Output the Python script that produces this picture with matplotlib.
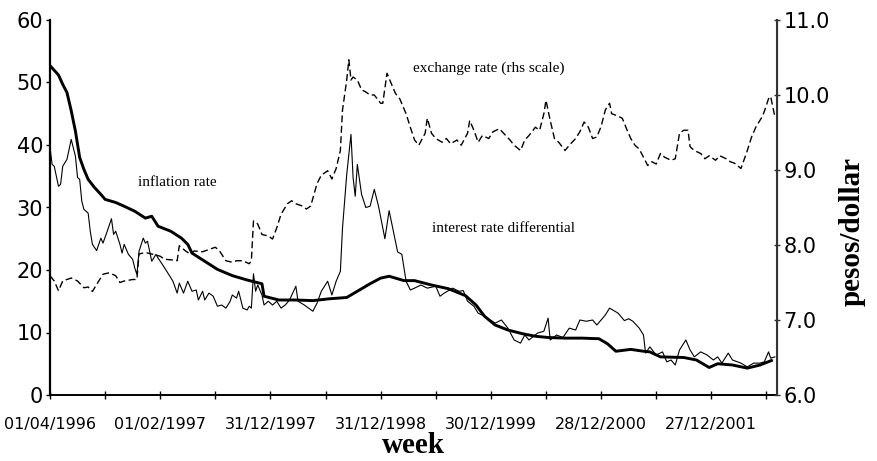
import numpy as np
import matplotlib.pyplot as plt
from matplotlib.transforms import ScaledTranslation

# week index (0 = 01/04/1996) and values
infl_wk = [0, 4, 6, 8, 10, 12, 14, 16, 18, 21, 24, 26, 31, 35, 40, 45, 48, 51, 57, 62,
           65, 67, 73, 79, 86, 93, 100, 101, 108, 116, 124, 132, 140, 145, 151, 156, 160,
           167, 172, 180, 188, 196, 201, 205, 210, 216, 223, 229, 235, 243, 251, 259, 263,
           267, 274, 280, 283, 288, 299, 305, 311, 315, 322, 329, 335, 341]
infl = [52.7, 51.2, 49.7, 48.4, 45.5, 42.2, 38.0, 36.1, 34.5, 33.2, 32.1, 31.3, 30.8, 30.2,
        29.4, 28.3, 28.6, 27.0, 26.2, 25.1, 24.1, 22.7, 21.4, 20.1, 19.1, 18.4, 17.8, 15.8,
        15.2, 15.2, 15.1, 15.4, 15.6, 16.6, 17.8, 18.7, 19.0, 18.3, 18.3, 17.6, 17.0, 15.9,
        14.4, 12.6, 11.2, 10.4, 9.8, 9.4, 9.2, 9.1, 9.1, 9.0, 8.2, 7.0, 7.3, 7.0, 6.9, 6.1,
        6.0, 5.6, 4.4, 5.0, 4.8, 4.3, 4.8, 5.6]

irate_wk = [0, 1, 2, 4, 5, 6, 8, 10, 12, 13, 14, 15, 16, 18, 19, 20, 22, 24, 25, 27, 29,
            30, 31, 33, 34, 35, 37, 39, 40, 41, 42, 44, 45, 46, 48, 50, 51, 53, 56, 58, 60,
            61, 63, 65, 67, 69, 70, 72, 73, 75, 77, 79, 81, 83, 85, 86, 88, 89, 91, 93, 94,
            95, 96, 97, 98, 100, 101, 103, 105, 107, 109, 111, 113, 116, 117, 120, 122, 124,
            126, 128, 131, 133, 135, 137, 138, 140, 142, 143, 144, 145, 147, 149, 151, 153,
            155, 158, 160, 162, 164, 166, 168, 170, 172, 175, 178, 182, 184, 186, 190, 193,
            195, 197, 200, 202, 205, 210, 213, 216, 219, 222, 224, 226, 230, 233, 235, 236,
            239, 242, 245, 248, 250, 253, 256, 258, 260, 262, 264, 266, 268, 271, 273, 275,
            278, 280, 281, 283, 286, 289, 291, 293, 295, 297, 300, 302, 304, 307, 310, 313,
            315, 317, 320, 322, 326, 329, 332, 335, 337, 339, 340, 342]
irate = [39.6, 36.9, 36.6, 33.4, 33.7, 36.6, 37.7, 40.9, 38.2, 34.8, 34.5, 31.0, 29.7, 29.1,
         26.2, 24.1, 23.1, 25.1, 24.3, 26.2, 28.2, 25.7, 26.2, 24.1, 22.7, 24.1, 22.5, 21.7,
         20.3, 19.3, 23.0, 25.1, 24.3, 24.6, 21.4, 22.5, 21.9, 20.9, 19.3, 18.2, 16.3, 17.9,
         16.3, 18.2, 16.6, 16.8, 15.2, 16.6, 15.2, 16.3, 15.8, 14.2, 14.4, 13.9, 15.0, 16.0,
         15.5, 16.6, 13.9, 13.6, 14.2, 13.9, 19.4, 16.6, 17.6, 16.0, 14.4, 15.0, 14.4, 15.0,
         13.9, 14.4, 15.2, 17.4, 15.0, 14.4, 13.9, 13.4, 14.7, 16.6, 18.2, 16.0, 18.2, 19.8,
         26.7, 35.3, 41.7, 34.8, 31.8, 36.9, 32.1, 30.0, 30.2, 32.9, 30.2, 25.0, 29.5, 26.2,
         22.9, 22.5, 18.2, 16.8, 17.1, 17.6, 17.1, 17.4, 15.8, 16.3, 17.1, 16.6, 16.7, 15.0,
         14.2, 13.1, 12.6, 11.5, 12.0, 10.7, 8.8, 8.3, 9.6, 8.8, 9.9, 10.2, 12.3, 8.8, 9.6,
         9.2, 10.7, 10.4, 12.0, 11.8, 12.0, 11.2, 12.0, 12.8, 13.9, 13.5, 13.1, 11.9, 12.2,
         11.8, 10.7, 9.6, 6.7, 7.7, 6.4, 6.9, 5.3, 5.6, 4.8, 7.2, 8.8, 7.2, 6.1, 6.9, 6.4,
         5.6, 6.1, 5.1, 6.7, 5.6, 5.1, 4.5, 5.1, 5.1, 5.3, 6.9, 5.9, 6.1]

fx_wk = [0, 2, 4, 6, 10, 13, 16, 18, 20, 23, 25, 28, 31, 33, 35, 39, 41, 42, 45, 48, 52, 54,
         58, 60, 61, 64, 66, 68, 72, 75, 78, 80, 83, 86, 88, 91, 94, 95, 96, 98, 100, 103,
         105, 107, 109, 112, 114, 116, 119, 121, 123, 126, 128, 131, 133, 135, 137, 138, 140,
         141, 142, 143, 145, 147, 149, 151, 153, 156, 157, 159, 160, 163, 165, 168, 170, 172,
         174, 177, 178, 180, 182, 185, 187, 189, 192, 194, 197, 198, 200, 202, 204, 207, 209,
         212, 215, 217, 219, 222, 224, 226, 229, 231, 233, 234, 236, 238, 240, 243, 245, 248,
         250, 252, 254, 256, 258, 260, 262, 264, 265, 267, 270, 272, 274, 276, 278, 280, 282,
         284, 286, 288, 290, 293, 295, 297, 299, 301, 302, 304, 307, 309, 311, 314, 316, 319,
         321, 323, 326, 329, 331, 333, 336, 337, 339, 340, 342]
fx = [7.59, 7.52, 7.39, 7.52, 7.56, 7.52, 7.43, 7.44, 7.38, 7.52, 7.61, 7.63, 7.59, 7.50,
      7.52, 7.54, 7.54, 7.88, 7.90, 7.88, 7.85, 7.81, 7.80, 7.79, 7.99, 7.92, 7.88, 7.92,
      7.91, 7.94, 7.97, 7.92, 7.79, 7.77, 7.79, 7.79, 7.75, 7.79, 8.32, 8.28, 8.14, 8.12,
      8.08, 8.23, 8.41, 8.55, 8.59, 8.55, 8.52, 8.48, 8.52, 8.82, 8.93, 8.99, 8.88, 9.02,
      9.26, 9.80, 10.20, 10.47, 10.20, 10.24, 10.20, 10.07, 10.04, 10.00, 10.00, 9.89, 9.89,
      10.29, 10.22, 10.02, 9.95, 9.75, 9.57, 9.40, 9.33, 9.49, 9.69, 9.49, 9.42, 9.37, 9.42,
      9.35, 9.40, 9.33, 9.49, 9.66, 9.53, 9.37, 9.46, 9.42, 9.51, 9.55, 9.46, 9.40, 9.33,
      9.26, 9.40, 9.46, 9.57, 9.53, 9.75, 9.93, 9.66, 9.42, 9.37, 9.26, 9.33, 9.42, 9.51,
      9.64, 9.57, 9.42, 9.44, 9.58, 9.80, 9.89, 9.75, 9.73, 9.69, 9.55, 9.42, 9.33, 9.28,
      9.17, 9.06, 9.11, 9.08, 9.22, 9.17, 9.13, 9.15, 9.49, 9.53, 9.53, 9.31, 9.26, 9.22,
      9.15, 9.19, 9.13, 9.19, 9.15, 9.11, 9.09, 9.02, 9.26, 9.44, 9.57, 9.71, 9.78, 9.95,
      9.98, 9.71]

date_labels = ['01/04/1996', '01/02/1997', '31/12/1997', '31/12/1998',
               '30/12/1999', '28/12/2000', '27/12/2001']

serif = 'Liberation Serif'
sans = 'DejaVu Sans'

fig = plt.figure(figsize=(8.77, 4.61), dpi=100)
ax = fig.add_axes([50/877, 66/461, 727/877, 375/461])
ax2 = ax.twinx()

ax.plot(irate_wk, irate, color='black', lw=0.8)
ax.plot(infl_wk, infl, color='black', lw=2.1, solid_capstyle='butt')
ax2.plot(fx_wk, fx, color='black', lw=1.0, dashes=(5, 2.5))

ax.set_xlim(0, 343)
ax.set_ylim(0, 60)
ax2.set_ylim(6, 11)

ax.set_yticks(np.arange(0, 61, 10))
ax2.set_yticks(np.arange(6, 11.1, 1))
ax2.set_yticklabels(['%.1f' % v for v in np.arange(6, 11.1, 1)])

xt = np.arange(0, 339, 26)
ax.set_xticks(xt)
ax.set_xticklabels([date_labels[i // 2] if i % 2 == 0 else '' for i in range(len(xt))])
off = ScaledTranslation(7/100, 0, fig.dpi_scale_trans)
for lbl in ax.get_xticklabels():
    lbl.set_transform(lbl.get_transform() + off)

ax.spines['top'].set_visible(False)
ax2.spines['top'].set_visible(False)
ax.spines['left'].set_linewidth(1.6)
ax.spines['bottom'].set_linewidth(1.4)
ax2.spines['right'].set_linewidth(1.5)
ax2.spines['right'].set_color('#333333')
ax2.spines['left'].set_visible(False)
ax2.spines['bottom'].set_visible(False)

ax.tick_params(axis='y', direction='out', length=3, width=1, labelsize=15, pad=2)
ax.tick_params(axis='x', direction='inout', length=6, width=1, labelsize=11.5, pad=13)
ax2.tick_params(axis='y', direction='inout', length=5, width=1, labelsize=15, pad=2,
                color='#333333')
for lbl in ax.get_yticklabels() + ax.get_xticklabels() + ax2.get_yticklabels():
    lbl.set_family(sans)

ax.set_xlabel('week', family=serif, fontweight='bold', fontsize=21, labelpad=0)
ax2.set_ylabel('pesos/dollar', family=serif, fontweight='bold', fontsize=21)
ax2.yaxis.set_label_coords(1.085, 0.435)

ax.text(60, 34.0, 'inflation rate', family=serif, fontsize=11, ha='center', va='center')
ax.text(207, 52.3, 'exchange rate (rhs scale)', family=serif, fontsize=11,
        ha='center', va='center')
ax.text(214, 26.6, 'interest rate differential', family=serif, fontsize=11,
        ha='center', va='center')

plt.savefig('out.png', dpi=100)
